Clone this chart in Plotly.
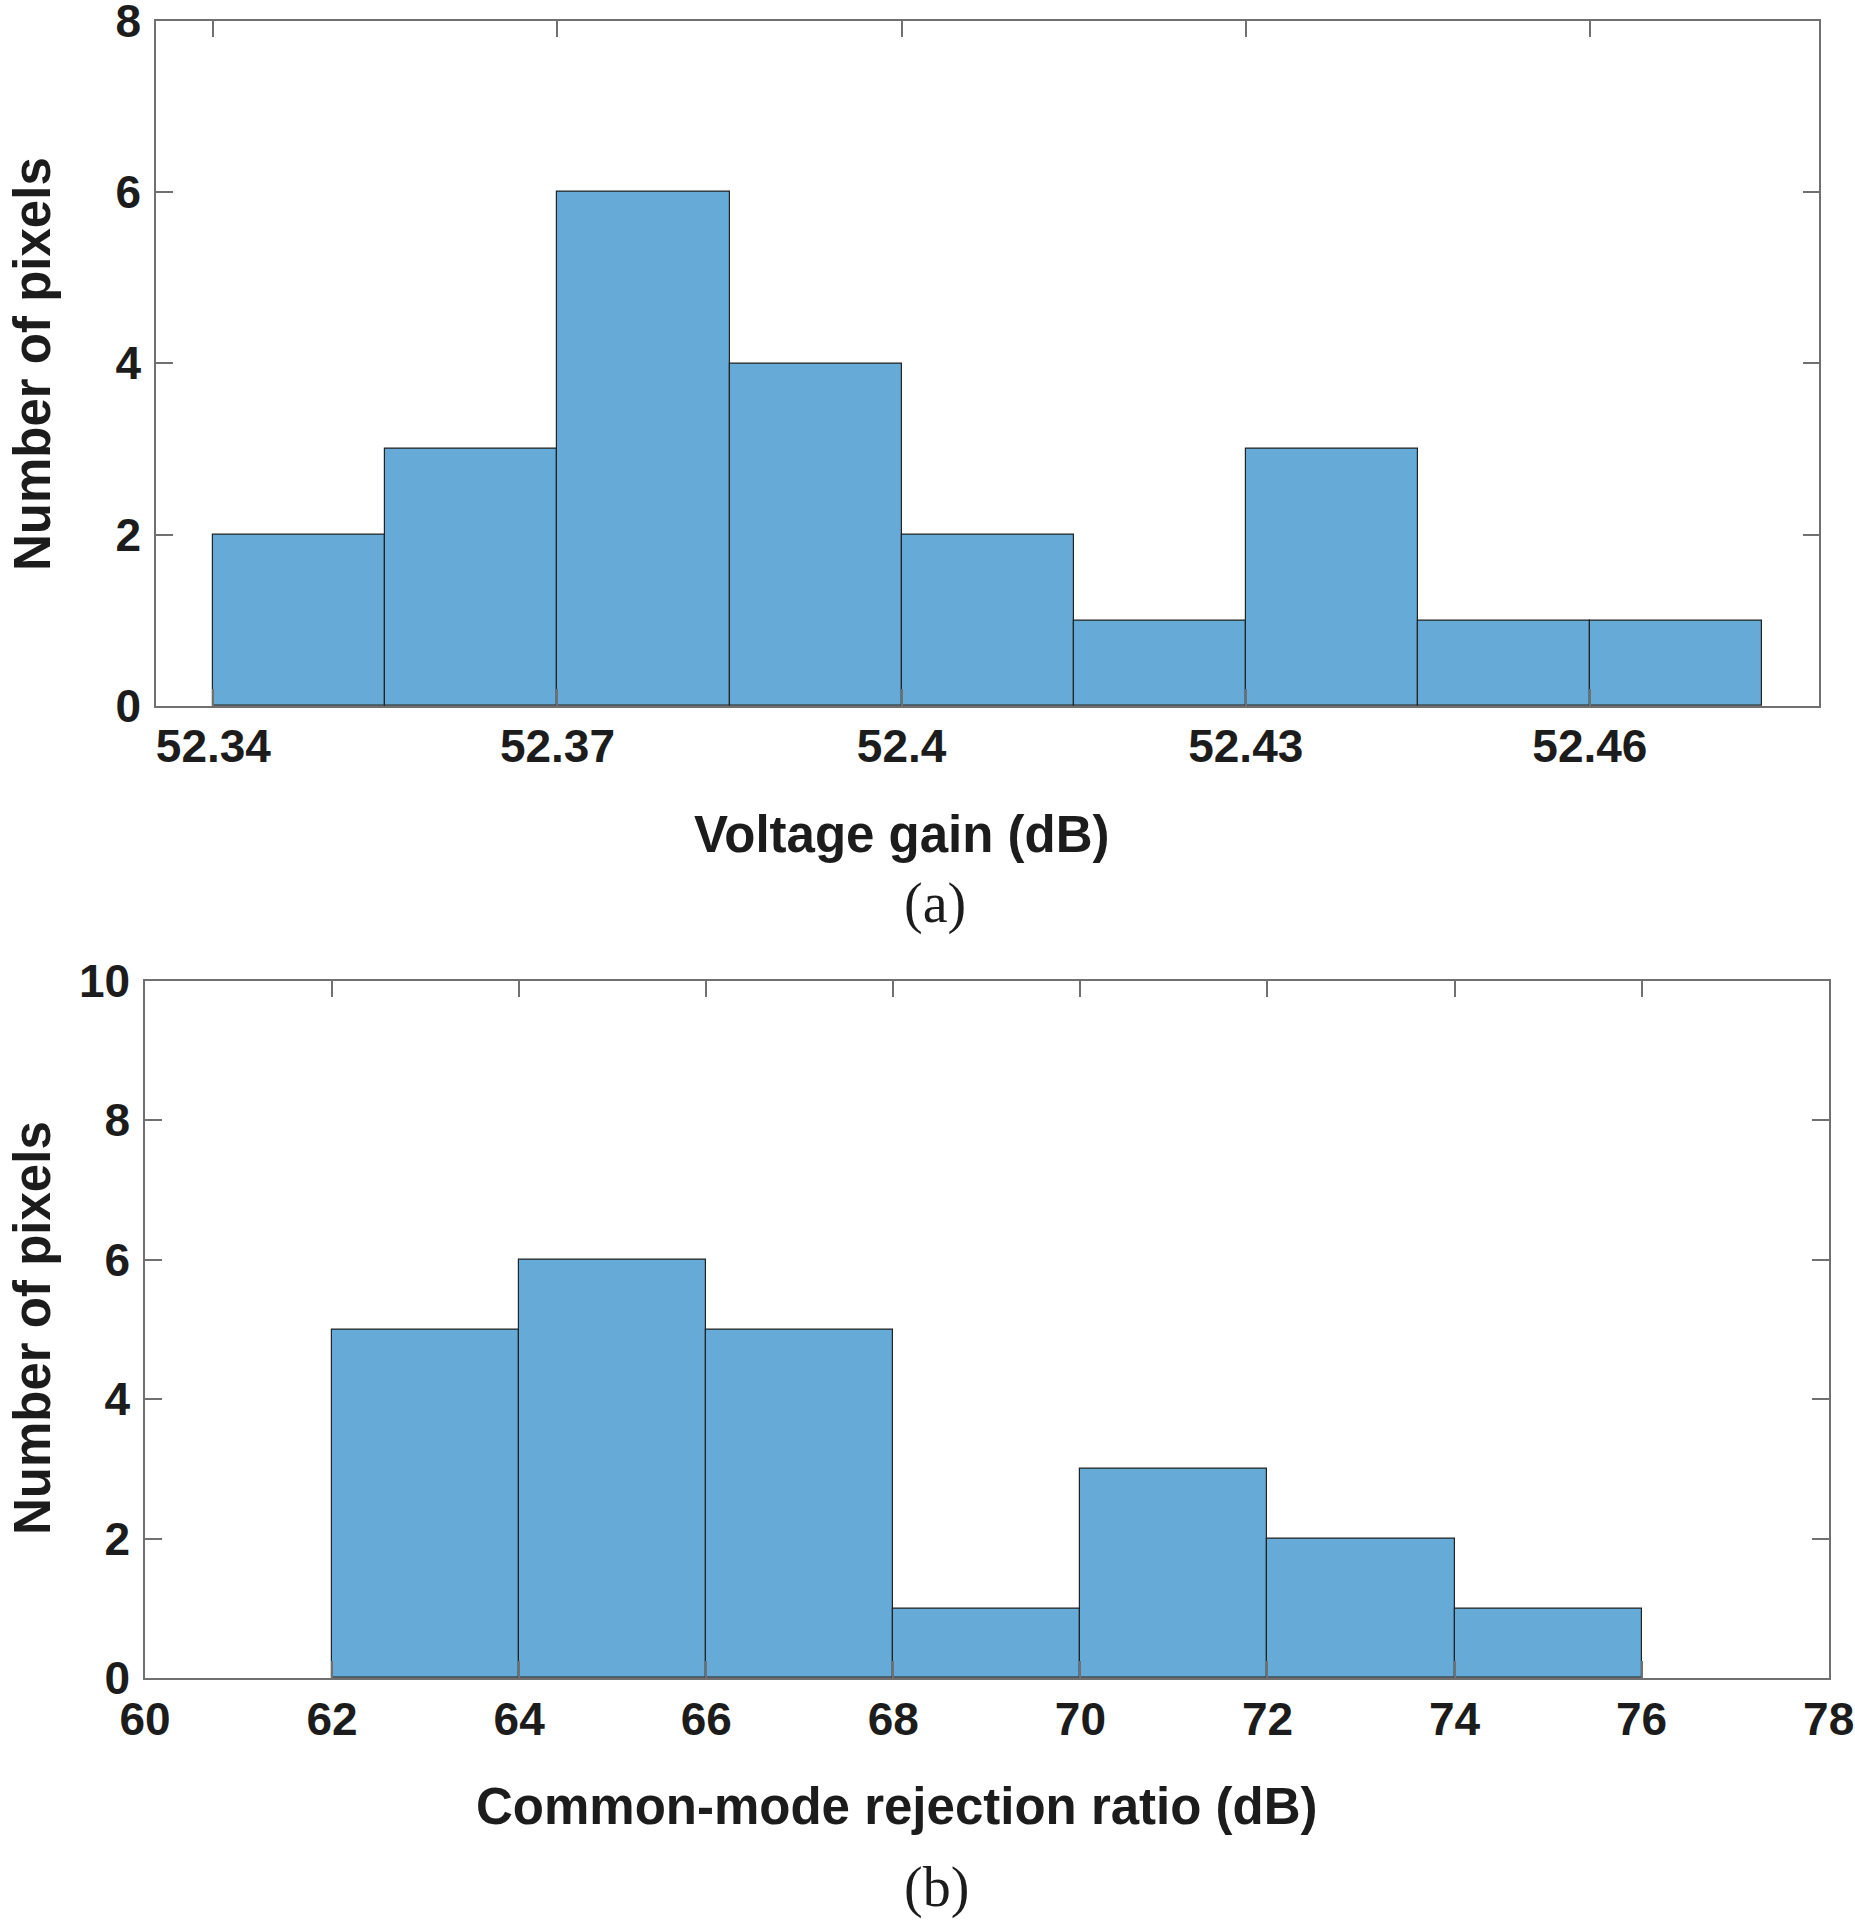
import plotly.graph_objects as go

# ---- data (a) ----
gain_edges = [52.34, 52.355, 52.37, 52.385, 52.40, 52.415, 52.43, 52.445, 52.46, 52.475]
gain_counts = [2, 3, 6, 4, 2, 1, 3, 1, 1]
gain_tickvals = [52.34, 52.37, 52.40, 52.43, 52.46]
gain_ticktext = ["52.34", "52.37", "52.4", "52.43", "52.46"]
gain_yticks = [0, 2, 4, 6, 8]

# ---- data (b) ----
cmrr_edges = [62, 64, 66, 68, 70, 72, 74, 76]
cmrr_counts = [5, 6, 5, 1, 3, 2, 1]
cmrr_tickvals = [60, 62, 64, 66, 68, 70, 72, 74, 76, 78]
cmrr_yticks = [0, 2, 4, 6, 8, 10]

W, H = 1855, 1920
FACE = "rgb(102,170,215)"
AXC = "#707070"
TXT = "#1c1c1c"
SANS = "Liberation Sans, Arial, Helvetica, sans-serif"
SERIF = "Liberation Serif, Times New Roman, serif"


def centers(edges):
    return [(a + b) / 2 for a, b in zip(edges[:-1], edges[1:])]


def widths(edges):
    return [b - a for a, b in zip(edges[:-1], edges[1:])]


fig = go.Figure()
fig.add_trace(go.Bar(x=centers(gain_edges), y=gain_counts, width=widths(gain_edges),
                     marker=dict(color=FACE, line=dict(color="#222222", width=1.2)),
                     xaxis="x", yaxis="y", showlegend=False))
fig.add_trace(go.Bar(x=centers(cmrr_edges), y=cmrr_counts, width=widths(cmrr_edges),
                     marker=dict(color=FACE, line=dict(color="#222222", width=1.2)),
                     xaxis="x2", yaxis="y2", showlegend=False))

tickfont = dict(family=SANS, size=46, color=TXT, weight="bold")
common = dict(showline=True, linecolor=AXC, linewidth=1.5, mirror="ticks",
              ticks="inside", ticklen=17, tickwidth=1.5, tickcolor=AXC,
              showgrid=False, zeroline=False, tickfont=tickfont, automargin=False,
              ticklabeloverflow="allow")

def px_x(p):
    return p / W

def px_y(p):
    return 1 - p / H

fig.update_layout(
    width=W, height=H, margin=dict(l=0, r=0, t=0, b=0, pad=0, autoexpand=False),
    paper_bgcolor="white", plot_bgcolor="white", bargap=0,
    xaxis=dict(domain=[px_x(156), px_x(1819.3)], range=[52.335, 52.48],
               tickvals=gain_tickvals, ticktext=gain_ticktext, anchor="y",
               ticklabelstandoff=-1, **common),
    yaxis=dict(domain=[px_y(706), px_y(20.7)], range=[0, 8], tickvals=gain_yticks,
               anchor="x", ticklabelstandoff=4, **common),
    xaxis2=dict(domain=[px_x(145), px_x(1828.7)], range=[60, 78],
                tickvals=cmrr_tickvals, anchor="y2", ticklabelstandoff=0, **common),
    yaxis2=dict(domain=[px_y(1678), px_y(980.7)], range=[0, 10], tickvals=cmrr_yticks,
                anchor="x2", ticklabelstandoff=4, **common),
)

titlefont = dict(family=SANS, size=51, color=TXT, weight="bold")
serif = dict(family=SERIF, size=56, color=TXT)

ann = [
    ("Voltage gain (dB)", 902, 835, 0, titlefont),
    ("Number of pixels", 32, 364, -90, titlefont),
    ("(a)", 935, 903, 0, serif),
    ("Common-mode rejection ratio (dB)", 897, 1806, 0, titlefont),
    ("Number of pixels", 32, 1328, -90, titlefont),
    ("(b)", 937, 1887, 0, serif),
]
for text, x, y, ang, f in ann:
    fig.add_annotation(text=text, x=px_x(x), y=px_y(y), xref="paper", yref="paper",
                       xanchor="center", yanchor="middle", textangle=ang,
                       showarrow=False, font=f)

fig.write_html(
    "out.html",
    config={"displayModeBar": False},
    post_script="document.body.style.margin='0';document.body.style.overflow='hidden';",
)
